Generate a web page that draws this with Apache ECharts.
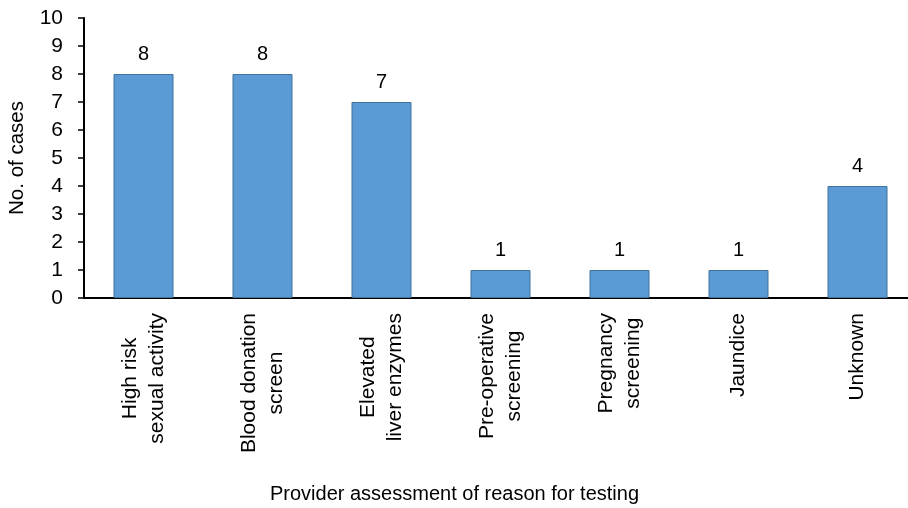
<!DOCTYPE html>
<html>
<head>
<meta charset="utf-8">
<script src="https://cdn.jsdelivr.net/npm/echarts@6/dist/echarts.min.js"></script>
<style>html,body{margin:0;padding:0;background:#fff;}#c{width:908px;height:508px;}</style>
</head>
<body>
<div id="c"></div>
<script>
var categories = ["High risk\nsexual activity", "Blood donation\nscreen", "Elevated\nliver enzymes", "Pre-operative\nscreening", "Pregnancy\nscreening", "Jaundice", "Unknown"];
var cases = [8, 8, 7, 1, 1, 1, 4];
var yTicks = [0, 1, 2, 3, 4, 5, 6, 7, 8, 9, 10];

var FONT = '"Liberation Sans", Arial, sans-serif';
var chart = echarts.init(document.getElementById('c'), null, {renderer: 'canvas'});
chart.setOption({
  animation: false,
  backgroundColor: '#ffffff',
  grid: {left: 84, top: 18, width: 833, height: 280, containLabel: false, outerBoundsMode: 'none'},
  xAxis: {
    type: 'category',
    data: categories,
    name: 'Provider assessment of reason for testing',
    nameLocation: 'middle',
    nameGap: 186,
    nameTextStyle: {fontFamily: FONT, fontSize: 20, color: '#000', verticalAlign: 'top', padding: [0, 92, 0, 0]},
    axisLine: {lineStyle: {color: '#000', width: 2}},
    axisTick: {show: false},
    axisLabel: {
      rotate: 90,
      margin: 15,
      interval: 0,
      fontFamily: FONT, fontSize: 21, color: '#000',
      formatter: function (v) { return v.split('\n').map(function (l) { return '{c|' + l + '}'; }).join('\n'); },
      rich: {c: {align: 'center', fontFamily: FONT, fontSize: 21, color: '#000', lineHeight: 27}}
    }
  },
  yAxis: {
    type: 'value',
    min: yTicks[0],
    max: yTicks[yTicks.length - 1],
    interval: 1,
    name: 'No. of cases',
    nameLocation: 'middle',
    nameGap: 56,
    nameRotate: 90,
    nameTextStyle: {fontFamily: FONT, fontSize: 20.5, color: '#000'},
    axisLine: {show: true, lineStyle: {color: '#000', width: 2}},
    axisTick: {show: true, length: 6, lineStyle: {color: '#000', width: 1.5}},
    axisLabel: {margin: 21, fontFamily: FONT, fontSize: 21, color: '#000'},
    splitLine: {show: false}
  },
  series: [{
    type: 'bar',
    data: cases,
    barWidth: 60,
    itemStyle: {color: '#5B9BD5', borderColor: '#41719C', borderWidth: 1},
    label: {show: true, position: 'top', distance: 10, fontFamily: FONT, fontSize: 20, color: '#000'}
  }]
});
</script>
</body>
</html>
